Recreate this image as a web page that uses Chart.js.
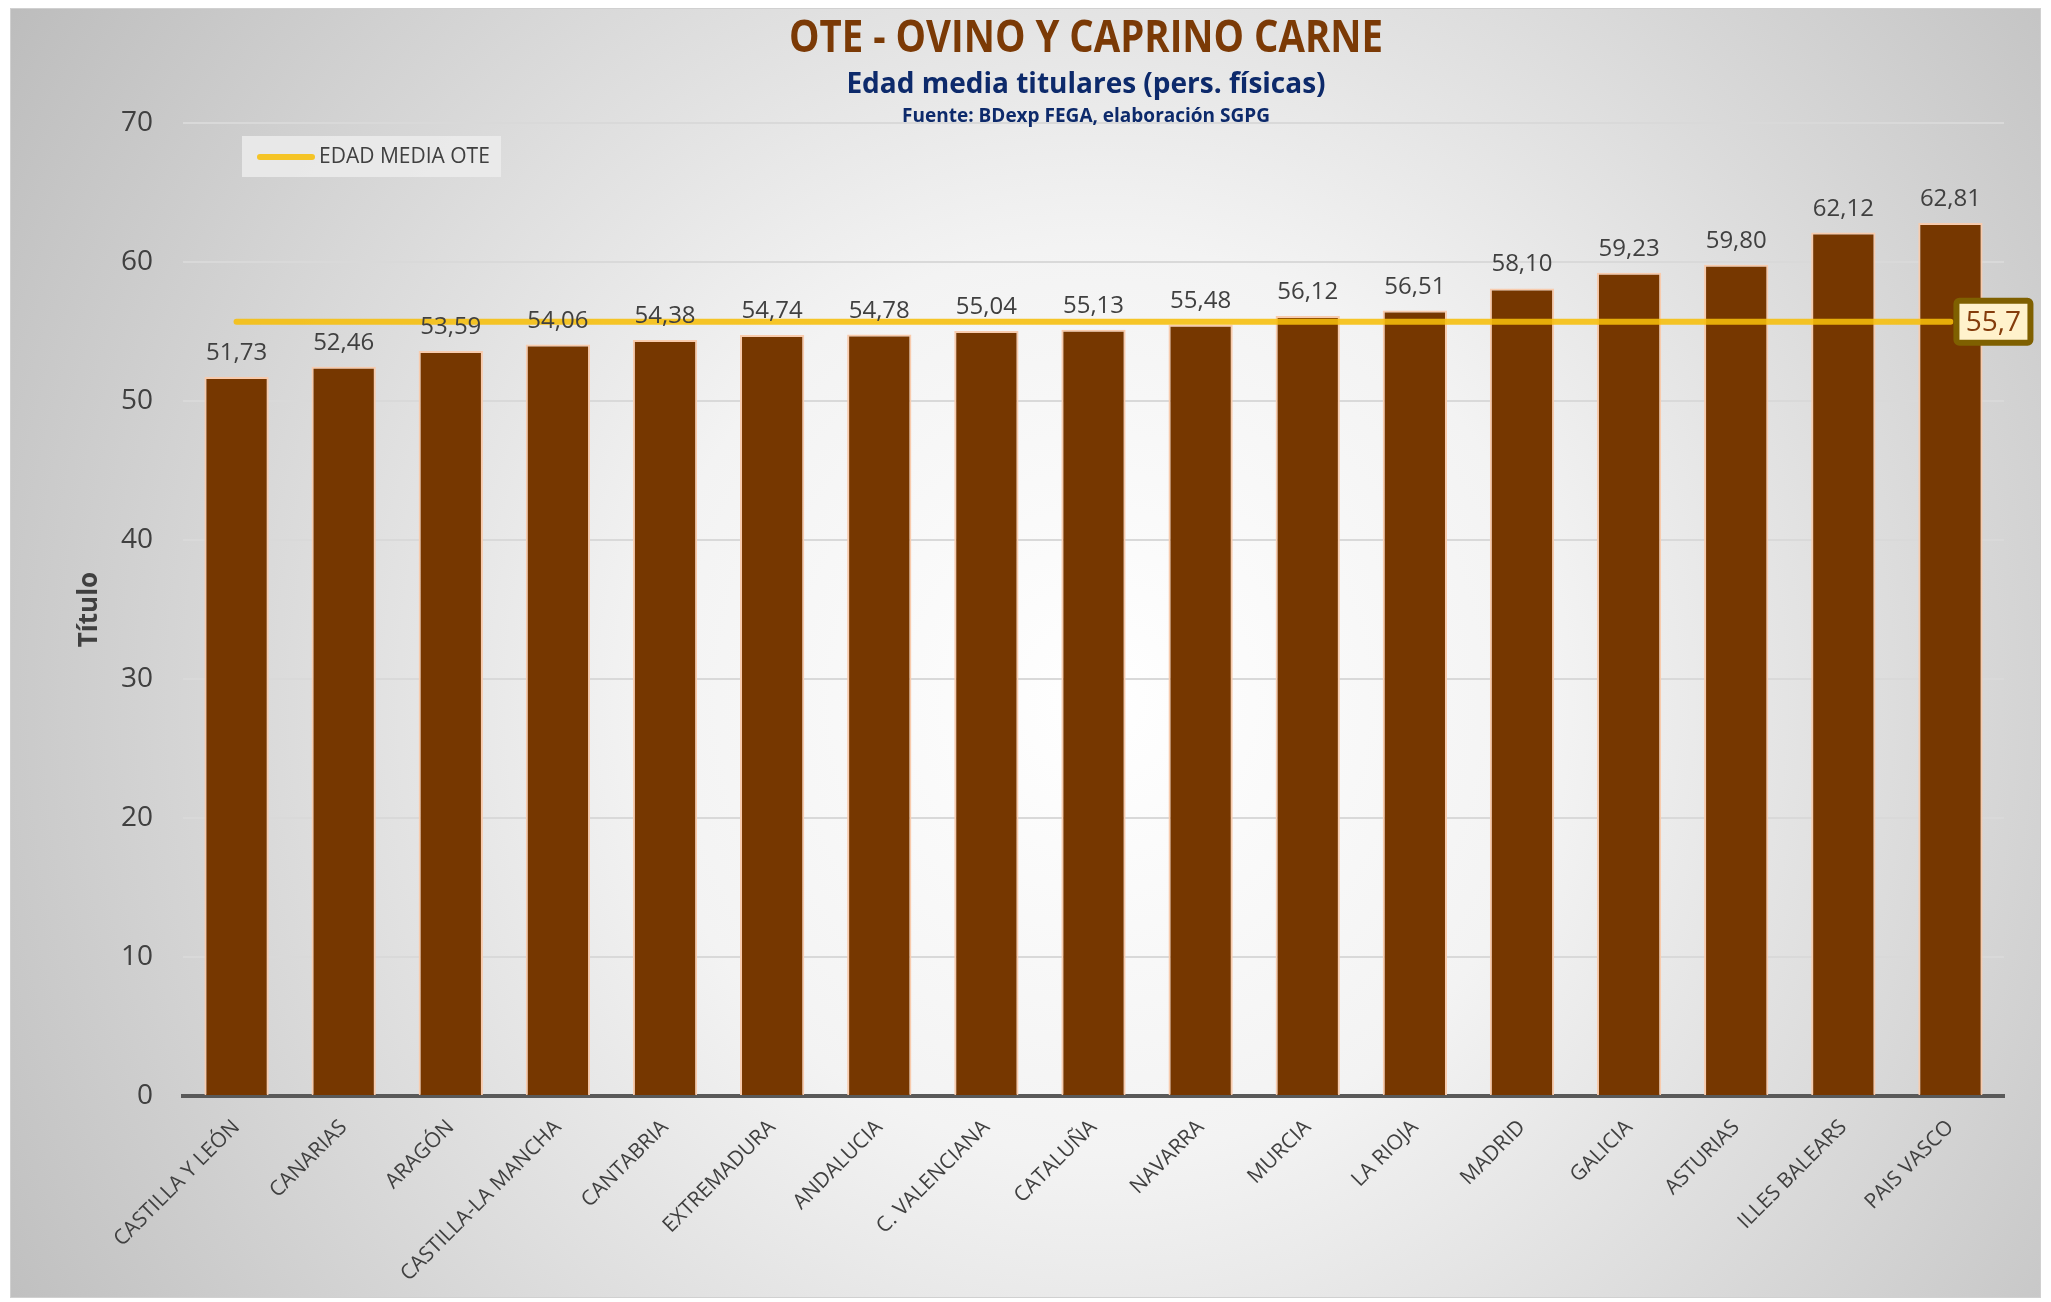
<!DOCTYPE html>
<html>
<head>
<meta charset="utf-8">
<title>OTE - Ovino y caprino carne</title>
<script src="https://cdn.jsdelivr.net/npm/chart.js@4.4.1/dist/chart.umd.min.js"></script>
<style>
    html, body { margin: 0; padding: 0; background: #ffffff; }
    #wrap { width: 2051px; height: 1302px; }
</style>
</head>
<body>
<div id="wrap"><canvas id="chart" width="2051" height="1302"></canvas></div>
<script>
// -------------------------
// Data
// -------------------------
const categories = [
    "CASTILLA Y LEÓN", "CANARIAS", "ARAGÓN", "CASTILLA-LA MANCHA", "CANTABRIA",
    "EXTREMADURA", "ANDALUCIA", "C. VALENCIANA", "CATALUÑA", "NAVARRA",
    "MURCIA", "LA RIOJA", "MADRID", "GALICIA", "ASTURIAS", "ILLES BALEARS", "PAIS VASCO"
];
const edadMedia = [
    51.73, 52.46, 53.59, 54.06, 54.38, 54.74, 54.78, 55.04, 55.13, 55.48,
    56.12, 56.51, 58.10, 59.23, 59.80, 62.12, 62.81
];
const edadMediaOte = 55.7;
const yTicks = [0, 10, 20, 30, 40, 50, 60, 70];

const titleText = "OTE - OVINO Y CAPRINO CARNE";
const subtitleText = "Edad media titulares (pers. físicas)";
const sourceText = "Fuente: BDexp FEGA, elaboración SGPG";
const legendText = "EDAD MEDIA OTE";
const yTitleText = "Título";

const fmt = (v, d) => v.toFixed(d).replace(".", ",");

// -------------------------
// Plugins
// -------------------------
const backgroundPlugin = {
    id: "background",
    beforeDraw(chart) {
        const ctx = chart.ctx;
        ctx.save();
        const g = ctx.createRadialGradient(1100, 700, 0, 1100, 700, 1300);
        g.addColorStop(0, "#ffffff");
        g.addColorStop(0.35, "#f3f3f3");
        g.addColorStop(1, "#bcbcbc");
        ctx.fillStyle = g;
        ctx.fillRect(10, 8, 2031, 1290);
        ctx.strokeStyle = "#d0d0d0";
        ctx.lineWidth = 1;
        ctx.strokeRect(10.5, 8.5, 2030, 1289);
        ctx.restore();
    }
};

const textPlugin = {
    id: "texts",
    afterDatasetsDraw(chart) {
        const ctx = chart.ctx;
        ctx.save();

        // bar value labels
        const bars = chart.getDatasetMeta(1).data;
        ctx.font = "24px 'Open Sans'";
        ctx.fillStyle = "#404040";
        ctx.textAlign = "center";
        ctx.textBaseline = "alphabetic";
        bars.forEach((bar, i) => {
            ctx.fillText(fmt(edadMedia[i], 2), bar.x, bar.y - 17);
        });

        // average label on last point
        const pts = chart.getDatasetMeta(0).data;
        const last = pts[pts.length - 1];
        const bx = last.x + 6, by = last.y - 21, bw = 74, bh = 42;
        ctx.fillStyle = "#fff2cc";
        ctx.strokeStyle = "#7f6000";
        ctx.lineWidth = 6;
        ctx.beginPath();
        ctx.roundRect(bx, by, bw, bh, 3);
        ctx.fill();
        ctx.stroke();
        ctx.font = "28px 'Open Sans'";
        ctx.fillStyle = "#843c0c";
        ctx.textAlign = "center";
        ctx.textBaseline = "middle";
        ctx.fillText(fmt(edadMediaOte, 1), bx + bw / 2, by + bh / 2 + 1);

        // legend
        ctx.fillStyle = "rgba(236,236,236,0.85)";
        ctx.fillRect(242, 136, 259, 41);
        ctx.strokeStyle = chart.data.datasets[0].borderColor;
        ctx.lineWidth = 6;
        ctx.lineCap = "round";
        ctx.beginPath();
        ctx.moveTo(260, 157);
        ctx.lineTo(312, 157);
        ctx.stroke();
        ctx.font = "21px 'Open Sans'";
        ctx.fillStyle = "#404040";
        ctx.textAlign = "left";
        ctx.fillText(legendText, 319, 157);

        // titles
        ctx.textAlign = "center";
        ctx.fillStyle = "#7b3a06";
        ctx.font = "bold 44px 'Liberation Sans Narrow', 'Open Sans', sans-serif";
        ctx.fillText(titleText, 1086, 39, 594);
        ctx.fillStyle = "#0d2a6b";
        ctx.font = "bold 28px 'Liberation Sans Narrow', 'Open Sans', sans-serif";
        ctx.fillText(subtitleText, 1086, 85, 489);
        ctx.font = "bold 19px 'Liberation Sans Narrow', 'Open Sans', sans-serif";
        ctx.fillText(sourceText, 1086, 117, 417);

        ctx.restore();
    }
};

// -------------------------
// Chart
// -------------------------
const ctx = document.getElementById("chart");

new Chart(ctx, {
    data: {
        labels: categories,
        datasets: [
            {
                type: "line",
                label: legendText,
                data: categories.map(() => edadMediaOte),
                borderColor: "rgba(246,190,10,0.88)",
                borderWidth: 6,
                borderCapStyle: "round",
                pointRadius: 0,
                order: 1
            },
            {
                type: "bar",
                label: "Edad media",
                data: edadMedia,
                backgroundColor: "#763700",
                borderColor: "#f8cbad",
                borderWidth: 2,
                categoryPercentage: 1,
                barPercentage: 0.6,
                order: 2
            }
        ]
    },
    options: {
        responsive: false,
        animation: false,
        layout: { padding: { top: 123, right: 47, left: 0, bottom: 0 } },
        plugins: {
            legend: { display: false },
            title: { display: false },
            tooltip: { enabled: false }
        },
        scales: {
            x: {
                grid: { display: false },
                border: { display: true, color: "#595959", width: 4 },
                ticks: {
                    color: "#404040",
                    font: { family: "'Open Sans'", size: 21 },
                    minRotation: 45,
                    maxRotation: 45,
                    padding: 11,
                    autoSkip: false
                },
                afterFit(scale) { scale.height = 206; }
            },
            y: {
                min: 0,
                max: 70,
                afterBuildTicks(scale) { scale.ticks = yTicks.map(v => ({ value: v })); },
                grid: { color: "#d9d9d9", lineWidth: 2, drawTicks: false },
                border: { display: false },
                ticks: {
                    color: "#404040",
                    font: { family: "'Open Sans'", size: 28 },
                    padding: 30
                },
                title: {
                    display: true,
                    text: yTitleText,
                    color: "#404040",
                    font: { family: "'Open Sans'", size: 26, weight: "bold" },
                    padding: { top: 74, bottom: 0 }
                },
                afterFit(scale) { scale.width = 183; }
            }
        }
    },
    plugins: [backgroundPlugin, textPlugin]
});
</script>
</body>
</html>
